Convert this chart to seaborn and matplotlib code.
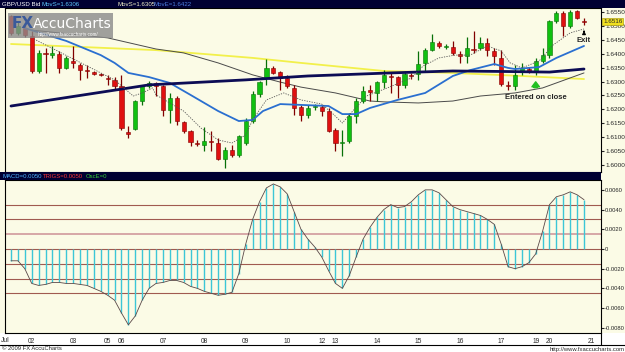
import matplotlib
matplotlib.use("Agg")
import matplotlib.pyplot as plt
from matplotlib.patches import Rectangle
import numpy as np
import seaborn as sns

# GBP/USD 4-hour bars, 1 Jul - 20 Jul 2009
OPEN = [1.6536, 1.6475, 1.6492, 1.6464, 1.6338, 1.6403, 1.6395, 1.6399, 1.6349, 1.6374,
        1.6359, 1.6341, 1.6334, 1.6327, 1.6313, 1.6306, 1.6284, 1.6119, 1.6129, 1.6230,
        1.6284, 1.6295, 1.6284, 1.6198, 1.6241, 1.6154, 1.6122, 1.6079, 1.6072, 1.6086,
        1.6079, 1.6022, 1.6054, 1.6036, 1.6079, 1.6158, 1.6255, 1.6313, 1.6349, 1.6334,
        1.6313, 1.6277, 1.6208, 1.6180, 1.6208, 1.6208, 1.6194, 1.6126, 1.6079, 1.6086,
        1.6176, 1.6230, 1.6270, 1.6259, 1.6298, 1.6320, 1.6316, 1.6288, 1.6324, 1.6327,
        1.6367, 1.6413, 1.6439, 1.6424, 1.6424, 1.6399, 1.6392, 1.6417, 1.6421, 1.6439,
        1.6410, 1.6385, 1.6288, 1.6284, 1.6338, 1.6345, 1.6338, 1.6374, 1.6395, 1.6518,
        1.6546, 1.6500, 1.6554, 1.6518]
HIGH = [1.6539, 1.6514, 1.6507, 1.6482, 1.6413, 1.6421, 1.6428, 1.6410, 1.6392, 1.6428,
        1.6367, 1.6359, 1.6338, 1.6331, 1.6324, 1.6316, 1.6324, 1.6140, 1.6234, 1.6288,
        1.6302, 1.6298, 1.6288, 1.6259, 1.6248, 1.6158, 1.6126, 1.6090, 1.6137, 1.6122,
        1.6097, 1.6065, 1.6072, 1.6108, 1.6169, 1.6266, 1.6302, 1.6381, 1.6356, 1.6338,
        1.6324, 1.6288, 1.6216, 1.6216, 1.6219, 1.6216, 1.6205, 1.6133, 1.6126, 1.6187,
        1.6241, 1.6284, 1.6288, 1.6302, 1.6341, 1.6331, 1.6320, 1.6338, 1.6331, 1.6410,
        1.6421, 1.6471, 1.6446, 1.6435, 1.6446, 1.6410, 1.6460, 1.6482, 1.6460, 1.6457,
        1.6421, 1.6413, 1.6302, 1.6359, 1.6367, 1.6352, 1.6385, 1.6421, 1.6521, 1.6554,
        1.6554, 1.6557, 1.6557, 1.6528]
LOW = [1.6467, 1.6467, 1.6460, 1.6331, 1.6331, 1.6331, 1.6385, 1.6331, 1.6345, 1.6349,
       1.6306, 1.6313, 1.6324, 1.6320, 1.6288, 1.6273, 1.6126, 1.6097, 1.6126, 1.6216,
       1.6277, 1.6248, 1.6176, 1.6151, 1.6144, 1.6115, 1.6068, 1.6068, 1.6050, 1.6050,
       1.6018, 1.5989, 1.6029, 1.6029, 1.6072, 1.6151, 1.6244, 1.6288, 1.6327, 1.6270,
       1.6277, 1.6180, 1.6158, 1.6169, 1.6198, 1.6176, 1.6118, 1.6050, 1.6032, 1.6079,
       1.6151, 1.6223, 1.6230, 1.6230, 1.6277, 1.6259, 1.6241, 1.6277, 1.6309, 1.6306,
       1.6338, 1.6410, 1.6421, 1.6417, 1.6395, 1.6367, 1.6367, 1.6403, 1.6413, 1.6392,
       1.6359, 1.6284, 1.6270, 1.6270, 1.6324, 1.6331, 1.6324, 1.6367, 1.6385, 1.6510,
       1.6464, 1.6492, 1.6525, 1.6503]
CLOSE = [1.6475, 1.6500, 1.6467, 1.6338, 1.6403, 1.6399, 1.6403, 1.6349, 1.6385, 1.6367,
         1.6341, 1.6338, 1.6327, 1.6324, 1.6309, 1.6284, 1.6133, 1.6111, 1.6230, 1.6284,
         1.6295, 1.6284, 1.6198, 1.6241, 1.6158, 1.6122, 1.6083, 1.6075, 1.6086, 1.6083,
         1.6022, 1.6054, 1.6036, 1.6104, 1.6158, 1.6255, 1.6298, 1.6349, 1.6331, 1.6313,
         1.6284, 1.6205, 1.6180, 1.6205, 1.6212, 1.6194, 1.6122, 1.6079, 1.6083, 1.6176,
         1.6230, 1.6266, 1.6262, 1.6298, 1.6324, 1.6316, 1.6288, 1.6327, 1.6320, 1.6363,
         1.6413, 1.6442, 1.6428, 1.6428, 1.6403, 1.6392, 1.6421, 1.6413, 1.6439, 1.6413,
         1.6392, 1.6291, 1.6284, 1.6324, 1.6349, 1.6338, 1.6374, 1.6395, 1.6518, 1.6546,
         1.6500, 1.6550, 1.6528, 1.6514]

# overlay moving averages, sampled at bar positions
YELLOW_X = [0, 21, 35, 42, 54, 64, 74, 83]
YELLOW_Y = [1.6435, 1.6413, 1.6385, 1.6367, 1.6338, 1.6331, 1.6320, 1.6309]
NAVY_X = [0, 20, 34, 43, 55, 64, 72, 78, 83]
NAVY_Y = [1.6212, 1.6288, 1.6306, 1.6320, 1.6331, 1.6338, 1.6336, 1.6334, 1.6345]
GRAY_X = [3, 14, 21, 25, 30, 35, 39, 42, 47, 52, 54, 59, 64, 68, 73, 77, 83]
GRAY_Y = [1.6485, 1.6457, 1.6417, 1.6403, 1.6367, 1.6324, 1.6298, 1.6280, 1.6259,
          1.6230, 1.6227, 1.6223, 1.6230, 1.6248, 1.6259, 1.6277, 1.6331]
BLUE_X = [2, 8, 13, 15, 17, 20, 23, 26, 30, 33, 35, 36.5, 39, 42, 46, 48, 50, 52, 56,
          60, 64, 66.5, 70, 72, 73, 76.5, 79, 83]
BLUE_Y = [1.6492, 1.6446, 1.6395, 1.6367, 1.6331, 1.6316, 1.6295, 1.6252, 1.6194,
          1.6158, 1.6162, 1.6194, 1.6219, 1.6216, 1.6212, 1.6183, 1.6183, 1.6205,
          1.6234, 1.6259, 1.6320, 1.6341, 1.6363, 1.6349, 1.6345, 1.6352, 1.6385, 1.6428]
DOT_X = [3, 13, 15, 17.7, 19, 20.5, 21, 25, 27.5, 30, 32, 34, 35, 37, 39.5, 42, 45,
         46.5, 48, 49.5, 51.5, 54.5, 58, 59.7, 62, 64.3, 66.5, 69, 71, 72.3, 74, 76.5,
         78.5, 81, 83]
DOT_Y = [1.6457, 1.6331, 1.6306, 1.6248, 1.6259, 1.6277, 1.6252, 1.6194, 1.6133,
         1.6090, 1.6079, 1.6108, 1.6162, 1.6234, 1.6259, 1.6234, 1.6219, 1.6187,
         1.6151, 1.6194, 1.6248, 1.6277, 1.6313, 1.6356, 1.6385, 1.6395, 1.6395,
         1.6428, 1.6410, 1.6367, 1.6349, 1.6374, 1.6431, 1.6475, 1.6489]

# MACD oscillator per bar
MACD = [-0.0012, -0.0012, -0.0020, -0.0035, -0.0037, -0.0036, -0.0034, -0.0034, -0.0035,
        -0.0035, -0.0036, -0.0037, -0.0040, -0.0043, -0.0047, -0.0052, -0.0065, -0.0077,
        -0.0068, -0.0052, -0.0040, -0.0035, -0.0034, -0.0032, -0.0032, -0.0034, -0.0038,
        -0.0040, -0.0043, -0.0045, -0.0047, -0.0046, -0.0044, -0.0025, 0.0005, 0.0030,
        0.0048, 0.0062, 0.0066, 0.0063, 0.0056, 0.0038, 0.0020, 0.0010, 0.0002, -0.0008,
        -0.0022, -0.0035, -0.0040, -0.0027, -0.0008, 0.0010, 0.0022, 0.0032, 0.0040,
        0.0045, 0.0042, 0.0043, 0.0048, 0.0055, 0.0060, 0.0060, 0.0057, 0.0050, 0.0043,
        0.0040, 0.0038, 0.0036, 0.0034, 0.0030, 0.0025, 0.0005, -0.0018, -0.0020, -0.0018,
        -0.0014, -0.0005, 0.0018, 0.0045, 0.0053, 0.0055, 0.0058, 0.0055, 0.0050]
MACD_LEVELS = [0.0045, 0.0030, 0.0015, 0.0, -0.0015, -0.0030, -0.0045]

DAY_LABELS = ["02", "03", "05", "06", "07", "08", "09", "10", "12", "13", "14",
              "15", "16", "17", "19", "20", "21"]
DAY_START = [3, 9, 14, 16, 22, 28, 34, 40, 45, 47, 53, 59, 65, 71, 76, 78, 84]

PRICE_TICKS = [1.6000, 1.6050, 1.6100, 1.6150, 1.6200, 1.6250, 1.6300, 1.6350,
               1.6400, 1.6450, 1.6500, 1.6550]
MACD_TICKS = [0.006, 0.004, 0.002, 0.0, -0.002, -0.004, -0.006, -0.008]

CREAM = "#fbfbe6"
NAVYBAR = "#000033"
SMALL = ["Liberation Sans Narrow", "Liberation Sans", "DejaVu Sans"]

sns.set_style("white")
plt.rcParams["font.family"] = SMALL

W, H = 625, 352


def frame(x0, y0, x1, y1):
    return [x0 / W, 1 - y1 / H, (x1 - x0) / W, (y1 - y0) / H]


fig = plt.figure(figsize=(W / 100, H / 100), dpi=100, facecolor=CREAM)
ax_p = fig.add_axes(frame(5, 8, 601, 172))
ax_m = fig.add_axes(frame(5, 180, 601, 333), sharex=ax_p)
for ax in (ax_p, ax_m):
    ax.set_facecolor(CREAM)
    for s in ax.spines.values():
        s.set_color("black")
        s.set_linewidth(0.8)

# --- candles ---
idx = np.arange(len(OPEN))
o, h, l, c = map(np.array, (OPEN, HIGH, LOW, CLOSE))
up = c >= o
cols = np.where(up, "#10c010", "#e01010")
edge = np.where(up, "#087008", "#800000")
ax_p.vlines(idx, l, h, colors=edge, linewidth=0.9, zorder=3)
body = np.maximum(np.abs(c - o), 0.00012)
ax_p.bar(idx, body, bottom=np.minimum(o, c), width=0.6, color=cols,
         edgecolor=edge, linewidth=0.4, zorder=4)

# --- moving averages ---
sns.lineplot(x=YELLOW_X, y=YELLOW_Y, ax=ax_p, color="#f2f04a", linewidth=1.3, zorder=2)
sns.lineplot(x=GRAY_X, y=GRAY_Y, ax=ax_p, color="#4a4a4a", linewidth=0.7, zorder=2)
sns.lineplot(x=BLUE_X, y=BLUE_Y, ax=ax_p, color="#2a6fd0", linewidth=1.3, zorder=5)
sns.lineplot(x=NAVY_X, y=NAVY_Y, ax=ax_p, color="#0c0c55", linewidth=2.0, zorder=5)
sns.lineplot(x=DOT_X, y=DOT_Y, ax=ax_p, color="#555555", linewidth=0.6, zorder=5)
ax_p.lines[-1].set_linestyle((0, (1.5, 1.5)))

ax_p.set_xlim(-0.87, 85.46)
ax_p.set_ylim(1.59748, 1.65644)
ax_p.yaxis.tick_right()
ax_p.set_yticks(PRICE_TICKS)
ax_p.set_yticklabels([f"{v:.4f}" for v in PRICE_TICKS])
ax_p.tick_params(axis="y", labelsize=4.6, length=2, pad=1.5, direction="out")
ax_p.tick_params(axis="x", bottom=False, labelbottom=False)

# annotations
ax_p.annotate("", xy=(83, 1.6493), xytext=(83, 1.6470),
              arrowprops=dict(arrowstyle="-|>", color="black", lw=0.8,
                              mutation_scale=5), zorder=6)
ax_p.text(83, 1.6446, "Exit", fontsize=5.5, fontweight="bold", ha="center", va="center")
ax_p.annotate("", xy=(76, 1.6309), xytext=(76, 1.6268),
              arrowprops=dict(arrowstyle="simple,head_width=0.9,head_length=0.6,tail_width=0.4",
                              color="#22c022", mutation_scale=6), zorder=6)
ax_p.text(76, 1.6241, "Entered on close", fontsize=5.5, fontweight="bold",
          ha="center", va="center")

# --- MACD ---
for lv in MACD_LEVELS:
    ax_m.axhline(lv, color="#d7a7a7" if lv == 0.0015 else "#a05a50",
                 linewidth=1.4 if lv == 0.0015 else 0.8, zorder=1)
ax_m.vlines(idx, 0, MACD, colors="#3cc6d6", linewidth=1.0, zorder=2)
sns.lineplot(x=idx, y=MACD, ax=ax_m, color="#5a4848", linewidth=0.6, zorder=3)
ax_m.set_ylim(-0.00853, 0.0070)
ax_m.yaxis.tick_right()
ax_m.set_yticks(MACD_TICKS)
ax_m.set_yticklabels([f"{v:.4f}" if v != 0 else "0" for v in MACD_TICKS])
ax_m.tick_params(axis="y", labelsize=4.2, length=2, pad=1)
ax_m.set_xticks(DAY_START)
ax_m.set_xticklabels(DAY_LABELS)
ax_m.tick_params(axis="x", labelsize=4.8, length=2, pad=1.5)
ax_m.set_xlabel("")
ax_p.set_xlabel("")

# --- header bars, label band, footer ---
fig.add_artist(Rectangle((0, 1 - 8 / H), 1, 8 / H, transform=fig.transFigure,
                         facecolor=NAVYBAR, edgecolor="none"))
fig.add_artist(Rectangle((0, 1 - 180 / H), 601 / W, 8 / H, transform=fig.transFigure,
                         facecolor=NAVYBAR, edgecolor="none"))
fig.add_artist(Rectangle((0, 0), 1, 1 - 333 / H, transform=fig.transFigure,
                         facecolor="white", edgecolor="none", zorder=-1))
fig.add_artist(plt.Line2D([0, 1], [1 - 345 / H] * 2, transform=fig.transFigure,
                          color="black", linewidth=0.8))
fig.add_artist(plt.Line2D([601 / W] * 2, [1 - 345 / H, 1 - 333 / H],
                          transform=fig.transFigure, color="black", linewidth=0.8))

hy = 1 - 4.5 / H
for x, s, col in [(2, "GBP/USD Bid", "white"), (41, "MovS=1.6306", "#5cc8ff"),
                  (117, "MovS=1.6305", "#f2f2c8"), (153, "MovE=1.6422", "#4d7fe0")]:
    fig.text(x / W, hy, s, color=col, fontsize=4.4, va="center")
my = 1 - 176.5 / H
for x, s, col in [(3, "MACD=0.0050", "#4fb6ff"), (43, "TRIGS=0.0050", "#ff3535"),
                  (86, "OscE=0", "#35d035")]:
    fig.text(x / W, my, s, color=col, fontsize=4.3, va="center")

fig.text(1 / W, 1 - 340 / H, "Jul", fontsize=4.8, va="center")
fig.text(2 / W, 1 - 349 / H, "\u00a9 2009 FX AccuCharts", fontsize=4.2, va="center")
fig.text(624 / W, 1 - 349 / H, "http://www.fxaccucharts.com", fontsize=4.2,
         va="center", ha="right")

# current price tag
fig.text(603 / W, 1 - 21.5 / H, "1.6516", fontsize=4.5, va="center",
         bbox=dict(boxstyle="square,pad=0.1", facecolor="#f0e020", edgecolor="#a09000",
                   linewidth=0.4))

# watermark logo
fig.add_artist(Rectangle((8 / W, 1 - 38 / H), 105 / W, 25 / H, transform=fig.transFigure,
                         facecolor="#8a8a8a", alpha=0.8, edgecolor="none", zorder=10))
fig.text(12 / W, 1 - 24 / H, "FX", fontsize=11, fontweight="bold", color="#3a5a9a",
         va="center", zorder=11, family="DejaVu Sans")
fig.text(33 / W, 1 - 24 / H, "AccuCharts", fontsize=10, color="white", va="center",
         zorder=11, family="DejaVu Sans")
fig.text(38 / W, 1 - 34.5 / H, "http://www.fxaccucharts.com/", fontsize=3.3,
         color="white", va="center", zorder=11)

fig.savefig("out.png", dpi=100, facecolor=fig.get_facecolor())
